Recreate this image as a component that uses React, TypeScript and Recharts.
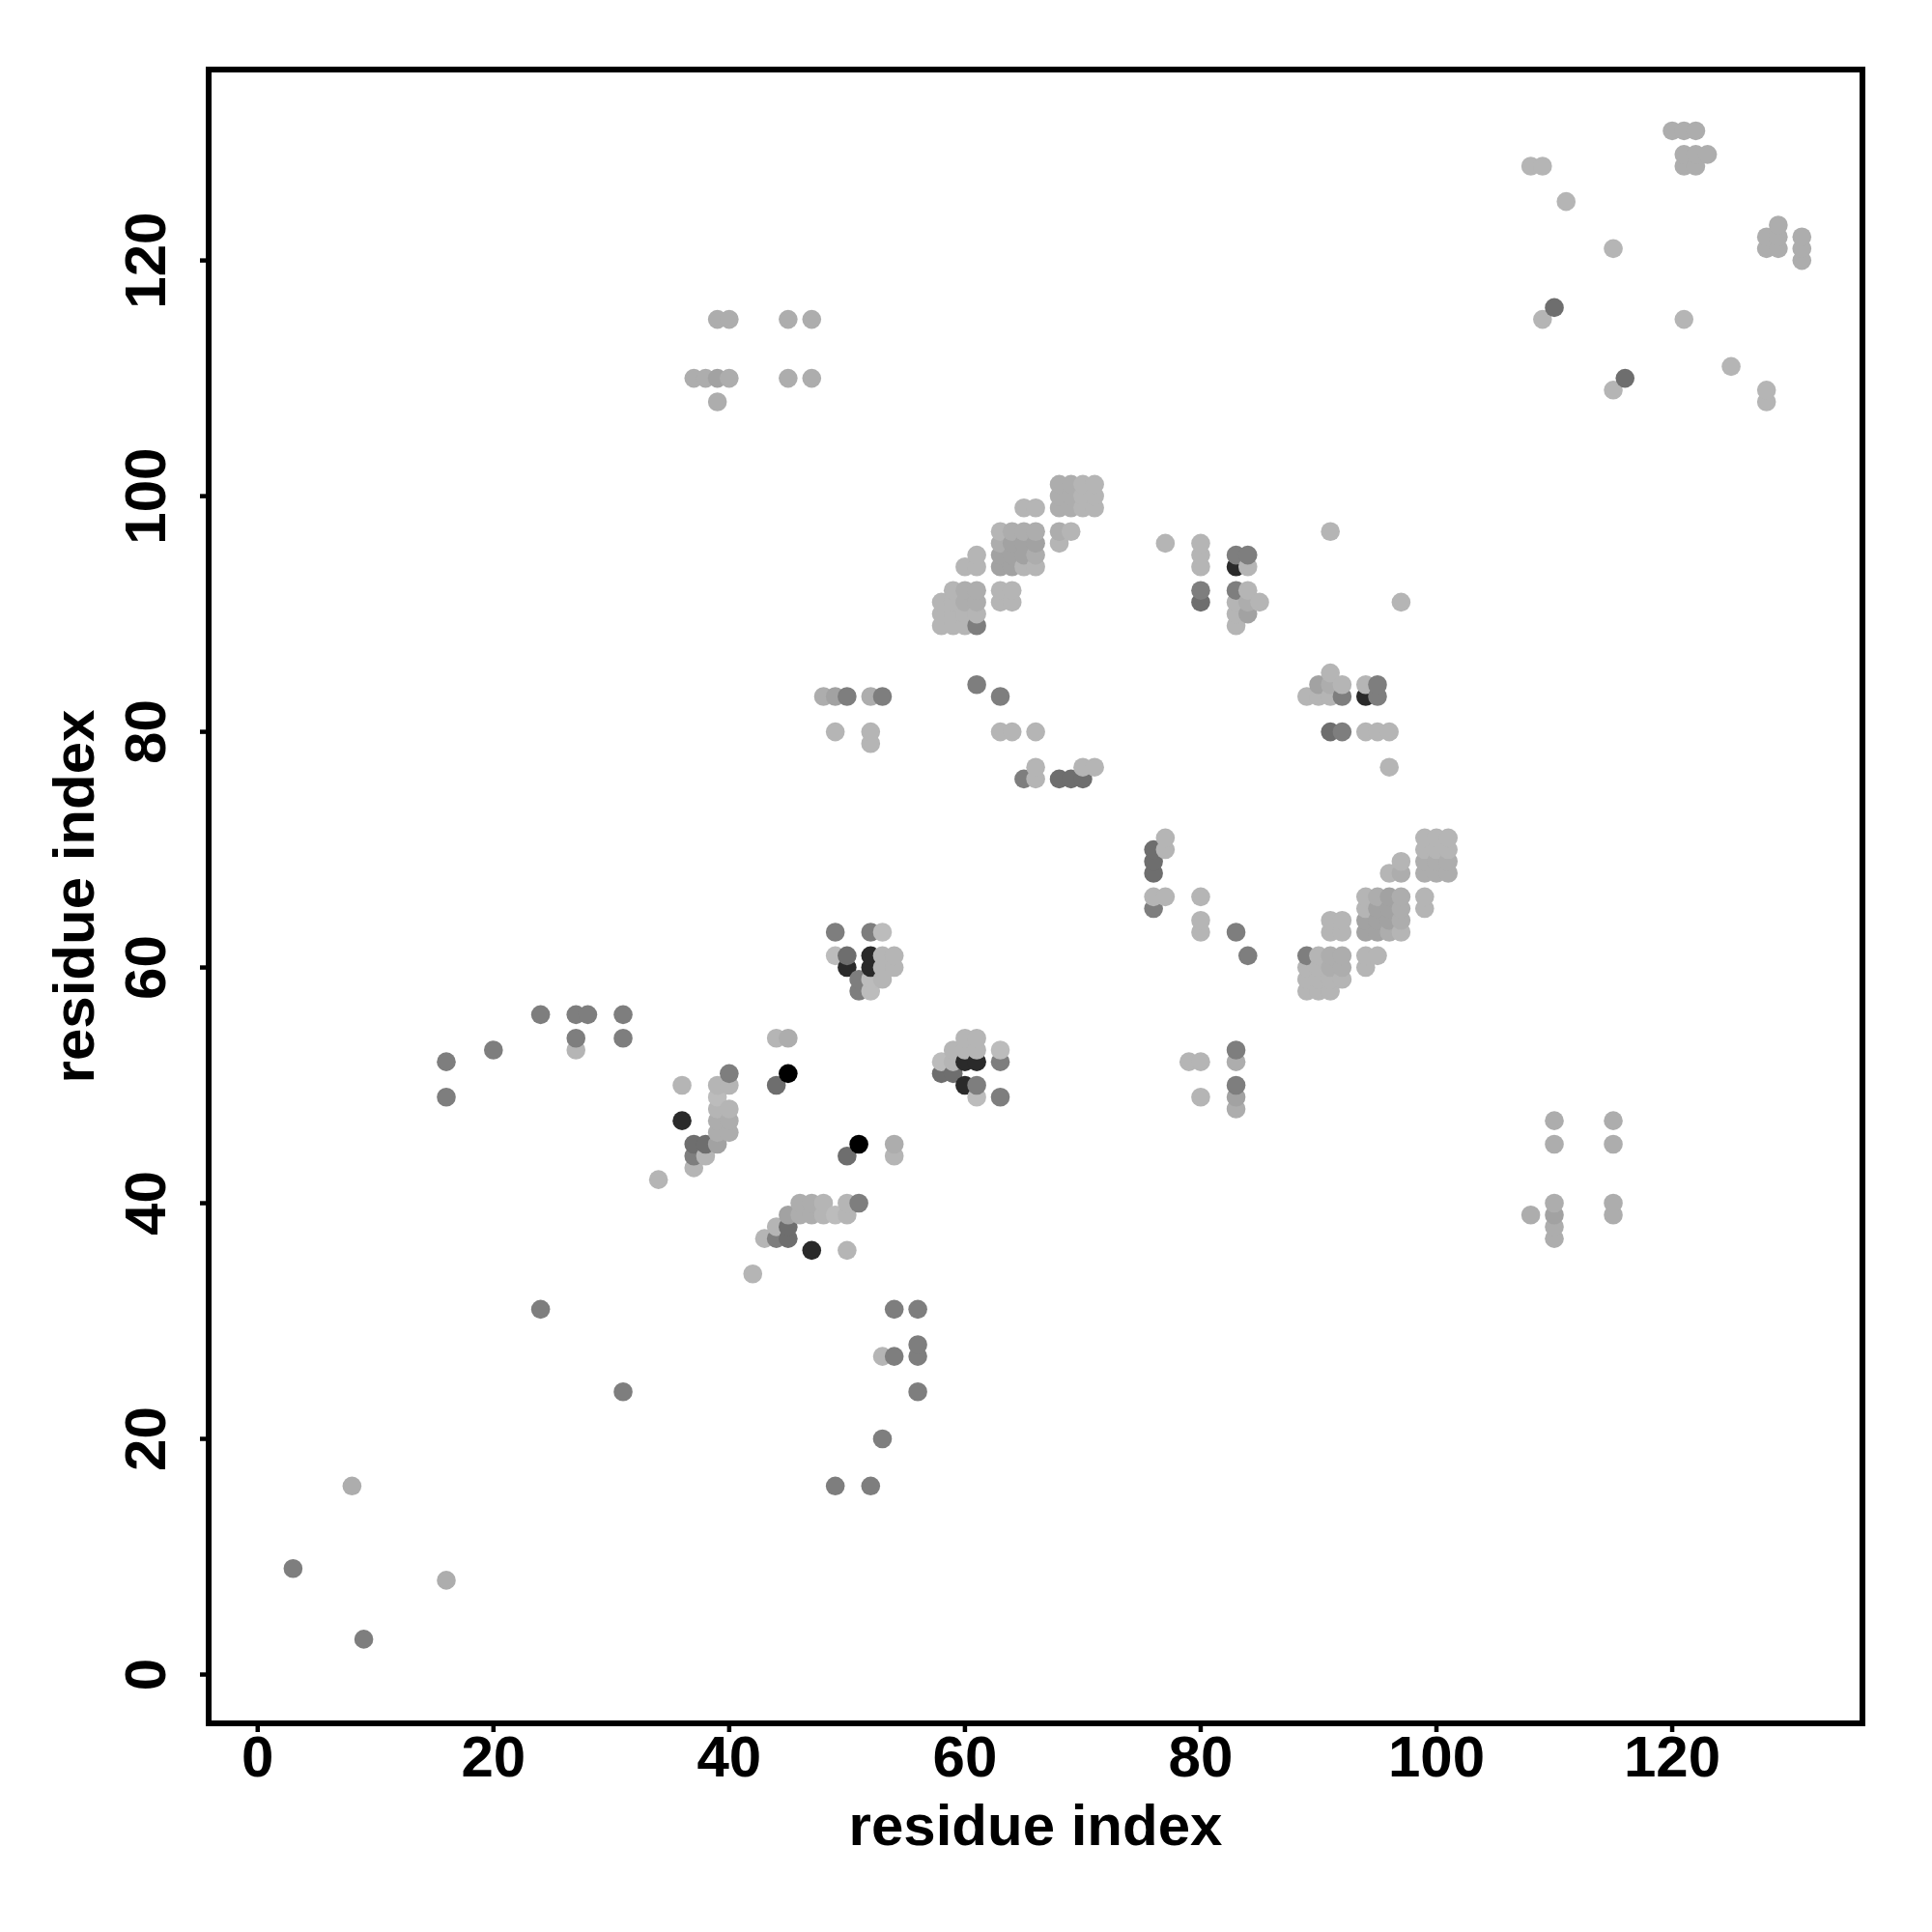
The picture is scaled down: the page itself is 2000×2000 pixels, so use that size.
import { ScatterChart, Scatter, XAxis, YAxis, ReferenceArea } from "recharts";

type Pair = [number, number];

const FONT = "'Liberation Sans', Arial, sans-serif";
const X_DOMAIN: Pair = [-4.16, 136.14];
const Y_DOMAIN: Pair = [-4.14, 136.2];
const TICKS = [0, 20, 40, 60, 80, 100, 120];

// contacts grouped by how dark the dot is: [residue x, residue y]
const black: Pair[] = [[45, 51], [51, 45]];
const nearBlack: Pair[] = [
  [36, 47], [47, 36], [50, 60], [60, 50], [52, 60], [60, 52], [52, 61], [61, 52], [83, 94], [94, 83],
];
const dark: Pair[] = [
  [44, 50], [50, 44], [37, 45], [45, 37], [38, 45], [45, 38], [58, 51], [59, 51], [50, 61], [80, 91], [91, 80],
  [68, 76], [76, 68], [69, 76], [76, 69], [70, 76], [76, 70], [110, 116], [116, 110],
];
const mid: Pair[] = [
  [3, 9], [9, 3], [16, 49], [49, 16], [16, 52], [52, 16], [20, 53], [53, 20], [24, 31], [31, 24], [24, 56], [56, 24],
  [27, 54], [54, 27], [27, 56], [56, 27], [28, 56], [56, 28], [31, 54], [54, 31], [31, 56], [56, 31], [37, 44], [44, 37],
  [40, 51], [51, 40], [49, 63], [63, 49], [52, 63], [63, 52], [51, 58], [51, 59], [61, 50], [61, 84], [84, 61], [63, 83],
  [83, 63], [65, 76], [76, 65], [80, 92], [92, 80], [83, 92], [92, 83], [83, 95], [95, 83], [84, 95], [95, 84], [61, 89],
  [89, 61], [50, 83], [83, 50], [53, 83], [83, 53],
];
const grayA: Pair[] = [
  [39, 45], [45, 39], [84, 90], [90, 84], [63, 94], [94, 63], [64, 94], [94, 64], [63, 95], [95, 63], [64, 95], [95, 64],
  [65, 95], [95, 65], [64, 96], [96, 64], [65, 96], [96, 65], [66, 96], [96, 66], [49, 83], [83, 49], [39, 110], [110, 39],
];
const grayB: Pair[] = [
  [8, 16], [16, 8], [39, 46], [46, 39], [40, 46], [46, 40], [39, 47], [47, 39], [40, 47], [47, 40], [45, 54], [54, 45],
  [60, 91], [91, 60], [61, 91], [91, 61], [60, 92], [92, 60], [61, 92], [92, 61], [63, 96], [96, 63], [64, 97], [97, 64],
  [65, 97], [97, 65], [66, 97], [97, 66], [66, 95], [95, 66], [68, 97], [97, 68], [84, 91], [91, 84], [48, 83], [83, 48],
  [52, 83], [83, 52], [68, 99], [68, 100], [68, 101], [69, 99], [69, 100], [69, 101], [99, 68], [100, 68], [101, 68],
  [99, 69], [100, 69], [101, 69], [37, 110], [38, 110], [40, 110], [110, 37], [110, 38], [110, 40], [39, 108], [108, 39],
  [39, 115], [115, 39], [40, 115], [115, 40], [45, 110], [110, 45], [47, 110], [110, 47], [45, 115], [115, 45], [47, 115],
  [115, 47], [120, 131], [121, 131], [122, 131], [131, 120], [131, 121], [131, 122], [121, 129], [129, 121], [122, 129],
  [129, 122], [123, 129], [129, 123], [121, 128], [128, 121], [122, 128], [128, 122],
];
const light: Pair[] = [
  [34, 42], [42, 34], [36, 50], [50, 36], [39, 48], [48, 39], [40, 48], [48, 40], [39, 50], [50, 39], [40, 50], [50, 40],
  [38, 44], [44, 38], [37, 43], [43, 37], [44, 54], [54, 44], [53, 60], [60, 53], [53, 61], [61, 53], [54, 60], [60, 54],
  [54, 61], [61, 54], [53, 59], [59, 53], [59, 52], [58, 89], [58, 90], [58, 91], [59, 89], [59, 90], [59, 91], [59, 92],
  [60, 89], [60, 90], [61, 90], [89, 58], [90, 58], [91, 58], [89, 59], [90, 59], [91, 59], [92, 59], [89, 60], [90, 60],
  [90, 61], [63, 91], [63, 92], [64, 91], [64, 92], [91, 63], [92, 63], [91, 64], [92, 64], [60, 94], [61, 94], [61, 95],
  [94, 60], [94, 61], [95, 61], [63, 97], [97, 63], [65, 94], [94, 65], [66, 94], [94, 66], [65, 99], [66, 99], [99, 65],
  [99, 66], [70, 99], [70, 100], [70, 101], [71, 99], [71, 100], [71, 101], [99, 70], [100, 70], [101, 70], [99, 71],
  [100, 71], [101, 71], [68, 96], [96, 68], [69, 97], [97, 69], [80, 94], [80, 95], [80, 96], [94, 80], [95, 80], [96, 80],
  [77, 96], [96, 77], [91, 97], [97, 91], [85, 91], [91, 85], [83, 89], [89, 83], [83, 90], [90, 83], [83, 91], [91, 83],
  [84, 92], [92, 84], [84, 94], [94, 84], [63, 80], [80, 63], [64, 80], [80, 64], [66, 80], [80, 66], [66, 77], [77, 66],
  [66, 76], [76, 66], [70, 77], [77, 70], [71, 77], [77, 71], [79, 52], [52, 79], [80, 52], [52, 80], [80, 49], [49, 80],
  [108, 128], [128, 108], [109, 128], [128, 109], [111, 125], [125, 111], [115, 121], [121, 115], [109, 115], [115, 109],
  [53, 27], [27, 53],
];
const lightest: Pair[] = [
  [49, 61], [61, 49], [52, 58], [58, 52], [52, 59], [53, 63], [63, 53], [39, 49], [49, 39],
];

const groups: [Pair[], string][] = [
  [black, "#000000"],
  [nearBlack, "#2a2a2a"],
  [dark, "#6e6e6e"],
  [mid, "#7e7e7e"],
  [grayA, "#a2a2a2"],
  [grayB, "#adadad"],
  [light, "#b5b5b5"],
  [lightest, "#bcbcbc"],
];

// later residues paint over earlier ones, same as the reference
const points = groups
  .flatMap(([pairs, fill]) => pairs.map(([x, y]) => ({ x, y, fill })))
  .sort((a, b) => a.x - b.x || a.y - b.y);

const renderDot = (props: any) => <circle cx={props.cx} cy={props.cy} r={9.8} fill={props.payload.fill} />;

const renderXTick = (props: any) => (
  <text x={props.x} y={props.y + 46} textAnchor="middle" fontFamily={FONT} fontWeight={700} fontSize={60} fill="#000">
    {props.payload.value}
  </text>
);

const renderYTick = (props: any) => (
  <text
    x={props.x - 36}
    y={props.y}
    transform={`rotate(-90 ${props.x - 36} ${props.y})`}
    textAnchor="middle"
    fontFamily={FONT}
    fontWeight={700}
    fontSize={60}
    fill="#000"
  >
    {props.payload.value}
  </text>
);

const titleStyle = { fontFamily: FONT, fontWeight: 700, fontSize: 60, fill: "#000" };

export default function App() {
  return (
    <div style={{ position: "absolute", left: 0, top: 0, width: 2000, height: 2000, background: "#fff" }}>
      <ScatterChart width={2000} height={2000} margin={{ top: 72, right: 72, bottom: 0, left: 0 }}>
        <XAxis
          type="number"
          dataKey="x"
          domain={X_DOMAIN}
          ticks={TICKS}
          allowDataOverflow
          height={216}
          axisLine={false}
          tickLine={{ stroke: "#000", strokeWidth: 4.5 }}
          tickSize={9}
          tickMargin={0}
          interval={0}
          tick={renderXTick}
          label={{ value: "residue index", position: "insideBottom", offset: 90, style: titleStyle }}
        />
        <YAxis
          type="number"
          dataKey="y"
          domain={Y_DOMAIN}
          ticks={TICKS}
          allowDataOverflow
          width={216}
          axisLine={false}
          tickLine={{ stroke: "#000", strokeWidth: 4.5 }}
          tickSize={9}
          tickMargin={0}
          interval={0}
          tick={renderYTick}
          label={{ value: "residue index", angle: -90, position: "insideLeft", offset: 76, style: { ...titleStyle, textAnchor: "middle" } }}
        />
        <ReferenceArea
          x1={X_DOMAIN[0]}
          x2={X_DOMAIN[1]}
          y1={Y_DOMAIN[0]}
          y2={Y_DOMAIN[1]}
          fill="none"
          stroke="#000"
          strokeWidth={6}
          fillOpacity={0}
        />
        <Scatter data={points} shape={renderDot} isAnimationActive={false} />
      </ScatterChart>
    </div>
  );
}
